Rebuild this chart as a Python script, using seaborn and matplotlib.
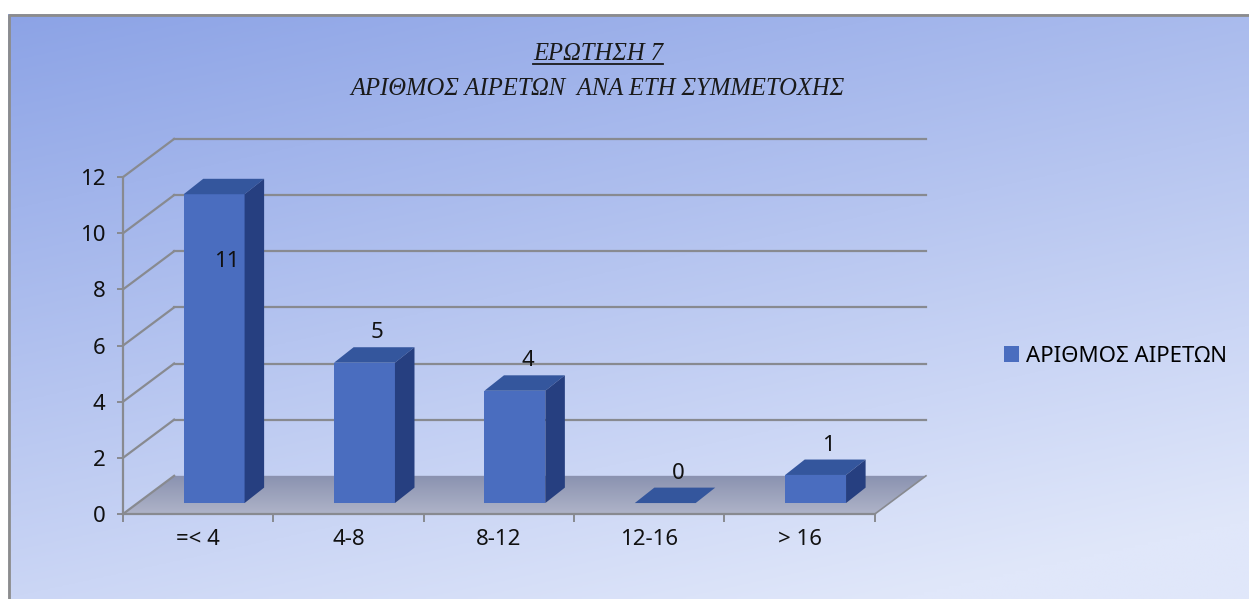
"""
Question 7 chart: number of elected members by years of participation.
Excel-style 3D column look rebuilt on top of a seaborn barplot.
"""
import numpy as np
import pandas as pd
import matplotlib
matplotlib.use("Agg")
import matplotlib.pyplot as plt
from matplotlib.patches import Polygon, Patch
from matplotlib.lines import Line2D
import seaborn as sns

# -- data --
categories = ["=< 4", "4-8", "8-12", "12-16", "> 16"]
values = [11, 5, 4, 0, 1]
series_name = "ΑΡΙΘΜΟΣ ΑΙΡΕΤΩΝ"
title_line1 = "ΕΡΩΤΗΣΗ 7"
title_line2 = "ΑΡΙΘΜΟΣ ΑΙΡΕΤΩΝ  ΑΝΑ ΕΤΗ ΣΥΜΜΕΤΟΧΗΣ"
yticks = [0, 2, 4, 6, 8, 10, 12]

# -- style --
FRONT = "#4a6dbf"
TOP = "#34569d"
SIDE = "#263f80"
GRID = "#888a90"
SANS = ["Noto Sans", "DejaVu Sans"]
SERIF = ["Liberation Serif", "DejaVu Serif"]

# depth of the "3D" box in data units (x: categories, y: values)
WALL_DX, WALL_DY = 0.34, 1.36
BAR_SX, BAR_SY = 0.106, 0.39      # where the bar front face sits
BAR_DX, BAR_DY = 0.13, 0.55       # thickness of the bars
BAR_W = 0.405

W, H = 1249, 599
fig = plt.figure(figsize=(W / 100, H / 100), dpi=100)
fig.patch.set_facecolor("white")

# background panel with gradient and left/top border
bg = fig.add_axes([0, 0, 1, 1], zorder=-5)
bg.set_xlim(0, W)
bg.set_ylim(H, 0)
bg.axis("off")
yy, xx = np.mgrid[0:1:200j, 0:1:300j]
t = np.clip(0.75 * yy + 0.35 * xx, 0, 1)
c0 = np.array([140, 163, 230]) / 255
c1 = np.array([224, 231, 250]) / 255
grad = c0 + (c1 - c0) * t[..., None]
bg.imshow(grad, extent=(8, W, H, 14), aspect="auto", zorder=0)
bg.plot([9, 9, W], [H, 15, 15], color="#8c8c8c", lw=2, zorder=1)

ax = fig.add_axes([123 / W, 85 / H, (935 - 123) / W, (514 - 135) / H])
ax.patch.set_alpha(0)

df = pd.DataFrame({"category": categories, "value": values})
sns.barplot(data=df, x="category", y="value", color=FRONT, saturation=1,
            width=BAR_W, ax=ax, zorder=5)
n = len(categories)
x0, x1 = -0.5, n - 0.5

# floor with a soft gradient
floor = Polygon([(x0, 0), (x1, 0), (x1 + WALL_DX, WALL_DY), (x0 + WALL_DX, WALL_DY)],
                closed=True, facecolor="none", edgecolor="none", zorder=1)
ax.add_patch(floor)
fgrad = np.linspace(0, 1, 50)[:, None] * np.ones((1, 10))
im = ax.imshow(fgrad, extent=(x0, x1 + WALL_DX, 0, WALL_DY), origin="lower",
               cmap=matplotlib.colors.LinearSegmentedColormap.from_list(
                   "floor", ["#aeb3c8", "#8a92b0"]),
               aspect="auto", zorder=1)
im.set_clip_path(floor)
ax.set_xlim(-0.5, 4.9)
ax.set_ylim(0, 13.5)

# side wall diagonals and back wall grid
for v in yticks:
    ax.plot([x0, x0 + WALL_DX], [v, v + WALL_DY], color=GRID, lw=1.6, zorder=2)
    if v > 0:
        ax.plot([x0 + WALL_DX, x1 + WALL_DX], [v + WALL_DY, v + WALL_DY],
                color=GRID, lw=1.6, zorder=2)
ax.plot([x1, x1 + WALL_DX], [0, WALL_DY], color=GRID, lw=1.2, zorder=2)

# turn the flat bars into boxes
for p, v in zip(ax.patches, values):
    p.set_x(p.get_x() + BAR_SX)
    p.set_y(BAR_SY)
    p.set_edgecolor("none")
    bx0 = p.get_x()
    bx1 = bx0 + p.get_width()
    by0 = BAR_SY
    by1 = BAR_SY + p.get_height()
    ax.add_patch(Polygon([(bx0, by1), (bx1, by1), (bx1 + BAR_DX, by1 + BAR_DY),
                          (bx0 + BAR_DX, by1 + BAR_DY)],
                         closed=True, facecolor=TOP, edgecolor="none", zorder=5))
    if v > 0:
        ax.add_patch(Polygon([(bx1, by0), (bx1 + BAR_DX, by0 + BAR_DY),
                              (bx1 + BAR_DX, by1 + BAR_DY), (bx1, by1)],
                             closed=True, facecolor=SIDE, edgecolor="none", zorder=5))

# value labels
for i, v in enumerate(values):
    ly = v + 1.45
    if ly > 12:
        ly = v - 2.0
    ax.text(i + 0.19, ly, f"{v}", ha="center", va="center", fontsize=16,
            family=SANS, color="#111111", zorder=8)

# axes lines and ticks
for s in ["top", "right"]:
    ax.spines[s].set_visible(False)
ax.spines["left"].set_bounds(0, 12)
ax.spines["bottom"].set_bounds(x0, x1)
for s in ["left", "bottom"]:
    ax.spines[s].set_color(GRID)
    ax.spines[s].set_linewidth(1.6)
    ax.spines[s].set_zorder(6)
ax.set_yticks(yticks)
ax.set_yticklabels([str(v) for v in yticks], family=SANS, fontsize=16)
ax.tick_params(axis="y", direction="out", length=4.5, width=1.4, color=GRID,
               pad=8, labelcolor="#111111")
ax.set_xticks(range(n))
ax.set_xticklabels(categories, family=SANS, fontsize=16)
ax.set_xticks(np.arange(n + 1) - 0.5, minor=True)
ax.tick_params(axis="x", which="major", length=0, pad=11, labelcolor="#111111")
ax.tick_params(axis="x", which="minor", direction="out", length=6, width=1.4,
               color=GRID)
ax.set_xlabel("")
ax.set_ylabel("")

# legend
handle = Patch(facecolor=FRONT, edgecolor="none", label=series_name)
ax.legend(handles=[handle], loc="center left", bbox_to_anchor=(995 / W, 1 - 356 / H),
          bbox_transform=fig.transFigure, frameon=False, prop={"family": SANS, "size": 16},
          handlelength=0.7, handleheight=0.7, handletextpad=0.3, borderaxespad=0)

# title with underlined first line
t1 = fig.text(598 / W, 1 - 54 / H, title_line1, ha="center", va="center",
              family=SERIF, style="italic", fontsize=17.7, color="#1a1a1a")
fig.text(597 / W, 1 - 89 / H, title_line2, ha="center", va="center",
         family=SERIF, style="italic", fontsize=17.7, color="#1a1a1a")
fig.canvas.draw()
bb = t1.get_window_extent(fig.canvas.get_renderer())
uy = (bb.y0 + 1) / H
fig.add_artist(Line2D([bb.x0 / W, bb.x1 / W], [uy, uy], color="#1a1a1a", lw=1.3,
                      transform=fig.transFigure))

fig.savefig("out.png", dpi=100)
